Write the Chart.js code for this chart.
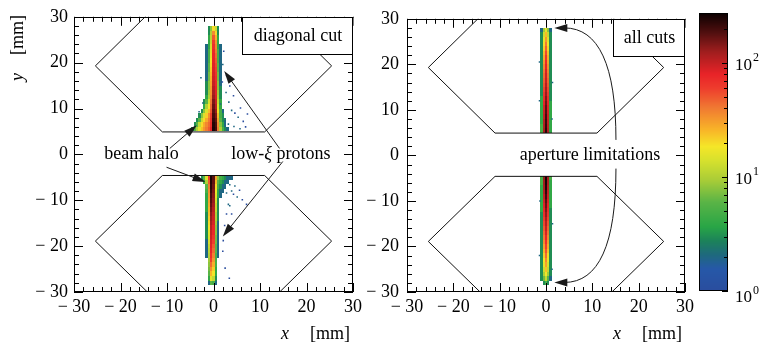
<!DOCTYPE html>
<html>
<head>
<meta charset="utf-8">
<script src="https://cdn.jsdelivr.net/npm/chart.js@4.4.1/dist/chart.umd.min.js"></script>
<style>
  body { margin: 0; background: #fff; }
  #wrap { position: relative; width: 762px; height: 344px; overflow: hidden; }
  canvas { position: absolute; top: 0; }
</style>
</head>
<body>
<div id="wrap">
  <canvas id="leftPanel" width="372" height="344" style="left:0"></canvas>
  <canvas id="rightPanel" width="362" height="344" style="left:338px"></canvas>
  <canvas id="colorBar" width="72" height="344" style="left:690px"></canvas>
</div>
<script>
// ---------------- data ----------------
const xTicks = [-30, -20, -10, 0, 10, 20, 30];
const yTicks = [-30, -20, -10, 0, 10, 20, 30];
const colorTicks = [1, 10, 100];

// aperture outline (mm)
const apertureX = [-11, 11, 25.4, 11, -11, -25.4, -11];
const apertureTopY = [4.9, 4.9, 19.3, 33.7, 33.7, 19.3, 4.9];
const apertureBottomY = [-4.6, -4.6, -18.9, -33.2, -33.2, -18.9, -4.6];

// lower edge of each 1 mm row
const topRowsY = [5, 6, 7, 8, 9, 10, 11, 12, 13, 14, 15, 16, 17, 18, 19, 20, 21, 22, 23, 24, 25, 26, 27];
const bottomRowsY = [-5.5, -6.5, -7.5, -8.5, -9.5, -10.5, -11.5, -12.5, -13.5, -14.5, -15.5, -16.5,
  -17.5, -18.5, -19.5, -20.5, -21.5, -22.5, -23.5, -24.5, -25.5, -26.5, -27.5, -28.5];

// diagonal cut, upper arm: centre of first 0.5 mm bin, then counts per bin
const leftTopStart = [-4.5, -4, -3.5, -3, -2.5, -2, -2, -1.5, -1.5, -1.5, -1.5, -1.5, -1.5, -1.5, -1.5,
  -1.5, -1.5, -1.5, -1.5, -1, -1, -1, -1];
const leftTopCounts = [
  [3, 6, 10, 16, 24, 32, 40, 50, 80, 250, 200, 40, 10, 5, 3, 2],
  [3, 6, 12, 20, 28, 36, 45, 70, 240, 190, 35, 8, 4, 2],
  [3, 6, 12, 20, 28, 40, 65, 220, 170, 30, 6, 3, 2],
  [3, 8, 14, 22, 35, 60, 200, 150, 25, 5, 3],
  [3, 8, 14, 25, 50, 180, 130, 20, 5, 2],
  [4, 10, 18, 45, 165, 110, 15, 4],
  [3, 6, 14, 40, 150, 100, 12, 4],
  [4, 10, 35, 130, 90, 10, 3],
  [3, 9, 32, 120, 85, 9, 3],
  [3, 8, 30, 110, 80, 8, 3],
  [3, 8, 28, 100, 75, 8, 2],
  [2, 7, 26, 95, 70, 7, 2],
  [2, 7, 24, 90, 65, 7, 2],
  [2, 6, 22, 88, 60, 6, 2],
  [2, 6, 20, 85, 55, 6, 2],
  [2, 5, 18, 82, 50, 5, 2],
  [2, 5, 16, 80, 45, 5, 2],
  [2, 5, 15, 75, 40, 5, 2],
  [2, 4, 14, 70, 36, 4, 2],
  [4, 12, 62, 32, 4],
  [4, 11, 50, 26, 4],
  [3, 10, 35, 20, 3],
  [3, 8, 20, 12, 3]
];

// diagonal cut, lower arm (rows from top to bottom)
const leftBottomStart = [-2.5, -2, -1.5, -1.5, -1.5, -1.5, -1.5, -1.5, -1.5, -1.5, -1.5, -1.5,
  -1.5, -1.5, -1.5, -1.5, -1.5, -1.5, -1, -1, -1, -1, -1, -1];
const leftBottomCounts = [
  [3, 6, 15, 60, 250, 180, 30, 8, 5, 4, 3, 2, 2, 2],
  [4, 10, 50, 240, 170, 25, 6, 4, 3, 2, 2],
  [6, 40, 230, 160, 20, 5, 3, 2, 2],
  [5, 35, 220, 150, 18, 4, 2, 2],
  [4, 32, 200, 140, 16, 4, 2],
  [4, 30, 185, 130, 14, 3],
  [4, 28, 170, 120, 12, 3],
  [4, 26, 155, 110, 12, 3],
  [3, 24, 140, 100, 10, 3],
  [3, 22, 130, 95, 10, 3],
  [3, 20, 120, 90, 9, 2],
  [3, 18, 110, 80, 8, 2],
  [3, 16, 100, 75, 8, 2],
  [3, 15, 95, 65, 7, 2],
  [2, 14, 90, 60, 7, 2],
  [2, 12, 85, 50, 6, 2],
  [2, 11, 80, 45, 6, 2],
  [2, 10, 70, 38, 5, 2],
  [9, 60, 32, 5],
  [8, 45, 27, 5],
  [7, 35, 22, 4],
  [6, 26, 18, 4],
  [4, 16, 12, 3],
  [2, 6, 5, 2]
];

// all cuts: bins centred at -1, -0.5, 0, 0.5, 1 mm
const rightTopCounts = [
  [5, 120, 230, 110, 4], [5, 115, 220, 105, 4], [4, 110, 210, 100, 4], [4, 100, 200, 95, 4],
  [4, 95, 185, 90, 4], [4, 90, 175, 85, 4], [4, 80, 160, 78, 4], [4, 72, 145, 70, 3],
  [3, 65, 130, 62, 3], [3, 58, 120, 56, 3], [3, 52, 110, 50, 3], [3, 48, 100, 46, 3],
  [3, 44, 95, 42, 3], [3, 40, 90, 38, 3], [3, 36, 82, 34, 3], [3, 32, 75, 30, 3],
  [3, 28, 65, 27, 3], [3, 25, 55, 24, 3], [3, 22, 48, 21, 3], [3, 20, 40, 18, 3],
  [3, 16, 32, 15, 3], [3, 13, 25, 12, 3], [2, 9, 16, 8, 2]
];
const rightBottomCounts = [
  [5, 130, 260, 120, 5], [5, 125, 250, 115, 4], [4, 120, 240, 110, 4], [4, 110, 220, 100, 4],
  [4, 100, 200, 95, 4], [4, 92, 180, 88, 4], [4, 85, 165, 80, 4], [4, 78, 150, 72, 3],
  [3, 70, 135, 65, 3], [3, 62, 120, 58, 3], [3, 56, 110, 52, 3], [3, 50, 100, 46, 3],
  [3, 45, 90, 42, 3], [3, 40, 80, 36, 3], [3, 35, 70, 32, 3], [3, 30, 60, 28, 3],
  [3, 26, 52, 24, 3], [3, 22, 44, 20, 3], [3, 19, 36, 17, 3], [3, 16, 30, 14, 3],
  [3, 13, 24, 12, 3], [3, 10, 18, 9, 3], [3, 7, 12, 6, 2], [0, 3, 5, 3, 0]
];
const rightStart = -1;

// isolated entries [x, y, count]
const leftDots = [
  [2.0, 19.6, 2], [-2.7, 16.7, 2], [3.5, 14.9, 1], [2.7, 13.5, 2], [4.3, 12.8, 1], [1.5, 11.0, 2],
  [3.3, 11.4, 2], [5.8, 10.1, 1], [3.9, 9.6, 2], [4.6, 9.0, 1], [5.3, 8.1, 2], [6.4, 7.2, 1],
  [5.7, 5.6, 2], [2.8, 17.2, 1], [2.4, 7.6, 3], [3.2, 6.6, 2], [4.4, 6.1, 2], [6.9, 6.0, 1],
  [-2.3, 11.2, 2], [-3.1, 9.3, 2], [1.9, 15.8, 1], [2.2, 22.5, 1], [7.3, 8.8, 1],
  [3.5, -6.6, 2], [4.6, -6.9, 2], [2.8, -8.4, 2], [4.3, -8.7, 1], [5.1, -9.3, 2], [7.1, -10.9, 1],
  [3.5, -11.2, 2], [3.9, -13.0, 1], [2.1, -18.8, 1], [2.5, -24.8, 1], [3.4, -27.0, 1], [2.0, -21.1, 1],
  [3.2, -10.9, 2], [2.8, -13.0, 1], [3.9, -8.0, 2], [5.6, -7.8, 1], [6.2, -9.9, 1], [2.4, -15.5, 1]
];
const rightDots = [
  [-1.4, 20.5, 2], [1.4, 16.0, 2], [-1.4, 12.0, 2], [1.3, 8.0, 2],
  [-1.3, -10.0, 2], [1.4, -15.0, 2], [-1.4, -22.0, 2], [1.3, -25.0, 2]
];

// ---------------- settings ----------------
const BIN_W = 0.5;
const ROW_H = 1;
const MINOR_STEP = 2;
const COUNT_MAX = 275;
const SERIF = '"Liberation Serif", "Times New Roman", serif';

const paletteStops = [
  [0.00, [42, 77, 158]], [0.08, [38, 88, 168]], [0.13, [30, 105, 125]], [0.18, [28, 130, 90]],
  [0.23, [40, 165, 70]], [0.32, [90, 180, 70]], [0.40, [170, 205, 55]], [0.47, [215, 225, 45]],
  [0.52, [245, 230, 40]], [0.58, [248, 180, 40]], [0.66, [240, 120, 50]], [0.73, [238, 60, 45]],
  [0.78, [232, 35, 40]], [0.86, [160, 30, 30]], [0.93, [80, 15, 15]], [1.00, [10, 0, 0]]
];

function countColor(c) {
  const t = Math.min(1, Math.max(0, Math.log10(c) / Math.log10(COUNT_MAX)));
  for (let i = 1; i < paletteStops.length; i++) {
    const [t1, c1] = paletteStops[i];
    const [t0, c0] = paletteStops[i - 1];
    if (t <= t1) {
      const f = (t - t0) / (t1 - t0);
      const rgb = c0.map((v, k) => Math.round(v + (c1[k] - v) * f));
      return `rgb(${rgb[0]},${rgb[1]},${rgb[2]})`;
    }
  }
  return 'rgb(10,0,0)';
}

function buildCells(rowsY, starts, counts) {
  const cells = [];
  rowsY.forEach((y0, i) => {
    const x0 = Array.isArray(starts) ? starts[i] : starts;
    counts[i].forEach((c, j) => {
      if (c > 0) cells.push({ x: x0 + j * BIN_W, y: y0 + ROW_H / 2, c });
    });
  });
  return cells;
}

function outline(ys) {
  return apertureX.map((x, i) => ({ x, y: ys[i] }));
}

function minusLabel(v) {
  return v < 0 ? '\u2212 ' + (-v) : String(v);
}

// ---------------- drawing helpers ----------------
function drawRich(ctx, parts, x, y, align) {
  const fonts = parts.map(p => (p[1] ? 'italic ' : '') + '18px ' + SERIF);
  const widths = parts.map((p, i) => { ctx.font = fonts[i]; return ctx.measureText(p[0]).width; });
  const total = widths.reduce((a, b) => a + b, 0);
  let cx = align === 'center' ? x - total / 2 : align === 'right' ? x - total : x;
  ctx.textAlign = 'left';
  ctx.textBaseline = 'middle';
  parts.forEach((p, i) => { ctx.font = fonts[i]; ctx.fillText(p[0], cx, y); cx += widths[i]; });
}

function arrowHead(ctx, tx, ty, ang) {
  const L = 13, W = 4;
  const c = Math.cos(ang), s = Math.sin(ang);
  ctx.beginPath();
  ctx.moveTo(tx, ty);
  ctx.lineTo(tx - L * c + W * s, ty - L * s - W * c);
  ctx.lineTo(tx - L * c - W * s, ty - L * s + W * c);
  ctx.closePath();
  ctx.fill();
}

function drawFrame(chart) {
  const ctx = chart.ctx;
  const { left, right, top, bottom } = chart.chartArea;
  const xs = chart.scales.x, ys = chart.scales.y;
  ctx.save();
  ctx.strokeStyle = '#000';
  ctx.lineWidth = 1;
  ctx.beginPath();
  for (let v = xTicks[0]; v <= xTicks[xTicks.length - 1]; v += MINOR_STEP) {
    const len = xTicks.includes(v) ? 9 : 5;
    const px = Math.round(xs.getPixelForValue(v)) + 0.5;
    ctx.moveTo(px, bottom); ctx.lineTo(px, bottom - len);
    ctx.moveTo(px, top); ctx.lineTo(px, top + len);
  }
  for (let v = yTicks[0]; v <= yTicks[yTicks.length - 1]; v += MINOR_STEP) {
    const len = yTicks.includes(v) ? 9 : 5;
    const py = Math.round(ys.getPixelForValue(v)) + 0.5;
    ctx.moveTo(left, py); ctx.lineTo(left + len, py);
    ctx.moveTo(right, py); ctx.lineTo(right - len, py);
  }
  ctx.stroke();
  ctx.strokeRect(Math.round(left) + 0.5, Math.round(top) + 0.5,
    Math.round(right - left) - 1, Math.round(bottom - top) - 1);
  ctx.restore();
}

function panelPlugin(opt) {
  return {
    id: 'panel' + opt.key,
    beforeDatasetsDraw(chart) {
      const ctx = chart.ctx;
      const xs = chart.scales.x, ys = chart.scales.y;
      const a = chart.chartArea;
      ctx.save();
      ctx.beginPath();
      ctx.rect(a.left, a.top, a.right - a.left, a.bottom - a.top);
      ctx.clip();
      chart.data.datasets.forEach(ds => {
        if (!ds.heat) return;
        ds.data.forEach(p => {
          const x0 = Math.round(xs.getPixelForValue(p.x - BIN_W / 2));
          const x1 = Math.round(xs.getPixelForValue(p.x + BIN_W / 2));
          const y0 = Math.round(ys.getPixelForValue(p.y + ROW_H / 2));
          const y1 = Math.round(ys.getPixelForValue(p.y - ROW_H / 2));
          ctx.fillStyle = countColor(p.c);
          ctx.fillRect(x0, y0, x1 - x0, y1 - y0);
        });
      });
      ctx.restore();
    },
    afterDatasetsDraw(chart) {
      const ctx = chart.ctx;
      const xs = chart.scales.x, ys = chart.scales.y;
      const a = chart.chartArea;
      drawFrame(chart);
      ctx.save();
      // label box
      const bx = Math.round(a.right - opt.boxWidth) + 0.5, by = Math.round(a.top) + 0.5;
      ctx.fillStyle = '#fff';
      ctx.fillRect(bx, by, opt.boxWidth, 37);
      ctx.strokeStyle = '#000';
      ctx.lineWidth = 1;
      ctx.strokeRect(bx, by, opt.boxWidth - 1, 37);
      ctx.fillStyle = '#000';
      drawRich(ctx, [[opt.title]], bx + opt.boxWidth / 2, by + 19, 'center');
      // annotations
      ctx.strokeStyle = '#1a1a1a';
      ctx.fillStyle = '#1a1a1a';
      opt.arrows.forEach(([x0, y0, x1, y1]) => {
        const p0 = [xs.getPixelForValue(x0), ys.getPixelForValue(y0)];
        const p1 = [xs.getPixelForValue(x1), ys.getPixelForValue(y1)];
        const ang = Math.atan2(p1[1] - p0[1], p1[0] - p0[0]);
        ctx.beginPath();
        ctx.moveTo(p0[0], p0[1]);
        ctx.lineTo(p1[0] - 10 * Math.cos(ang), p1[1] - 10 * Math.sin(ang));
        ctx.stroke();
        arrowHead(ctx, p1[0], p1[1], ang);
      });
      opt.curves.forEach(cv => {
        const p0 = [xs.getPixelForValue(cv[0][0]), ys.getPixelForValue(cv[0][1])];
        const pc = [xs.getPixelForValue(cv[1][0]), ys.getPixelForValue(cv[1][1])];
        const p1 = [xs.getPixelForValue(cv[2][0]), ys.getPixelForValue(cv[2][1])];
        const ang = Math.atan2(p1[1] - pc[1], p1[0] - pc[0]);
        ctx.beginPath();
        ctx.moveTo(p0[0], p0[1]);
        ctx.quadraticCurveTo(pc[0], pc[1], p1[0] - 10 * Math.cos(ang), p1[1] - 10 * Math.sin(ang));
        ctx.stroke();
        arrowHead(ctx, p1[0], p1[1], ang);
      });
      ctx.fillStyle = '#000';
      opt.texts.forEach(t => {
        drawRich(ctx, t.parts, xs.getPixelForValue(t.x), ys.getPixelForValue(t.y), 'center');
      });
      // axis titles
      drawRich(ctx, [['x', true]], a.right - 68, 334, 'center');
      drawRich(ctx, [['[mm]']], a.right - 3, 334, 'right');
      if (opt.yTitle) {
        ctx.translate(18, 0);
        ctx.rotate(-Math.PI / 2);
        drawRich(ctx, [['[mm]']], -15, 0, 'right');
        drawRich(ctx, [['y', true]], -77, 0, 'center');
      }
      ctx.restore();
    }
  };
}

function panelChart(id, opt) {
  const tickFont = { family: SERIF, size: 18 };
  return new Chart(document.getElementById(id), {
    type: 'scatter',
    data: {
      datasets: [
        { heat: true, data: opt.cells, pointRadius: 0, pointHoverRadius: 0 },
        {
          data: opt.dots.map(([x, y, c]) => ({ x, y, c })),
          pointStyle: 'rect', pointRadius: 1.1, borderWidth: 0,
          backgroundColor: ctx => countColor(ctx.raw ? ctx.raw.c : 1)
        },
        { data: outline(apertureTopY), showLine: true, borderColor: '#111', borderWidth: 1, pointRadius: 0 },
        { data: outline(apertureBottomY), showLine: true, borderColor: '#111', borderWidth: 1, pointRadius: 0 }
      ]
    },
    options: {
      responsive: false,
      animation: false,
      events: [],
      layout: { padding: { left: 0, top: 13, right: opt.padRight, bottom: 0 } },
      plugins: { legend: { display: false }, tooltip: { enabled: false } },
      scales: {
        x: {
          type: 'linear', min: xTicks[0], max: xTicks[xTicks.length - 1],
          afterBuildTicks: s => { s.ticks = xTicks.map(v => ({ value: v })); },
          afterFit: s => { s.height = 52; },
          grid: { display: false, drawTicks: false },
          border: { display: false },
          ticks: { font: tickFont, color: '#000', padding: 4, maxRotation: 0, autoSkip: false, callback: minusLabel }
        },
        y: {
          type: 'linear', min: yTicks[0], max: yTicks[yTicks.length - 1],
          afterBuildTicks: s => { s.ticks = yTicks.map(v => ({ value: v })); },
          afterFit: s => { s.width = opt.yWidth; },
          grid: { display: false, drawTicks: false },
          border: { display: false },
          ticks: { font: tickFont, color: '#000', padding: opt.yPad, autoSkip: false, callback: minusLabel }
        }
      }
    },
    plugins: [panelPlugin(opt)]
  });
}

panelChart('leftPanel', {
  key: 'L',
  cells: buildCells(topRowsY, leftTopStart, leftTopCounts)
    .concat(buildCells(bottomRowsY, leftBottomStart, leftBottomCounts)),
  dots: leftDots,
  padRight: 19, yWidth: 74, yPad: 6,
  title: 'diagonal cut', boxWidth: 111,
  arrows: [[-9.4, 1.3, -3.6, 6.35], [-10.1, -2.8, -1.7, -6.0], [14.2, 1.3, 2.3, 18.2], [14.9, -1.55, 2.0, -17.9]],
  curves: [],
  texts: [
    { x: -15.5, y: 0, parts: [['beam halo']] },
    { x: 14.5, y: 0, parts: [['low-'], ['\u03BE', true], [' protons']] }
  ],
  yTitle: true
});

panelChart('rightPanel', {
  key: 'R',
  cells: buildCells(topRowsY, rightStart, rightTopCounts)
    .concat(buildCells(bottomRowsY, rightStart, rightBottomCounts)),
  dots: rightDots,
  padRight: 15, yWidth: 69, yPad: 8,
  title: 'all cuts', boxWidth: 72,
  arrows: [],
  curves: [
    [[15.1, 3.4], [15.1, 28], [1.8, 28]],
    [[15.1, -2.9], [15.1, -27.9], [1.8, -27.9]]
  ],
  texts: [{ x: 9.5, y: 0, parts: [['aperture limitations']] }],
  yTitle: false
});

// ---------------- colour scale ----------------
new Chart(document.getElementById('colorBar'), {
  type: 'scatter',
  data: { datasets: [{ data: [] }] },
  options: {
    responsive: false,
    animation: false,
    events: [],
    layout: { padding: { left: 9, right: 34, top: 13, bottom: 53 } },
    plugins: { legend: { display: false }, tooltip: { enabled: false } },
    scales: {
      x: { display: false, min: 0, max: 1 },
      y: { type: 'logarithmic', display: false, min: 1, max: COUNT_MAX }
    }
  },
  plugins: [{
    id: 'colorScale',
    afterDraw(chart) {
      const ctx = chart.ctx;
      const ys = chart.scales.y;
      const { left, right, top, bottom } = chart.chartArea;
      ctx.save();
      for (let py = Math.round(top); py < Math.round(bottom); py++) {
        ctx.fillStyle = countColor(ys.getValueForPixel(py + 0.5));
        ctx.fillRect(Math.round(left), py, Math.round(right - left), 1);
      }
      ctx.strokeStyle = '#000';
      ctx.lineWidth = 1;
      ctx.strokeRect(Math.round(left) + 0.5, Math.round(top) + 0.5, Math.round(right - left) - 1, Math.round(bottom - top) - 1);
      ctx.beginPath();
      colorTicks.forEach(d => {
        for (let k = 1; k <= 9; k++) {
          const v = k * d;
          if (v > COUNT_MAX) break;
          const py = Math.round(ys.getPixelForValue(v)) + 0.5;
          const len = k === 1 ? 6 : 4;
          ctx.moveTo(right, py);
          ctx.lineTo(right - len, py);
        }
      });
      ctx.stroke();
      ctx.fillStyle = '#000';
      ctx.textAlign = 'left';
      ctx.textBaseline = 'middle';
      colorTicks.forEach(v => {
        const py = ys.getPixelForValue(v) + (v === 1 ? 7 : 2);
        ctx.font = '17px ' + SERIF;
        ctx.fillText('10', right + 7, py);
        const w = ctx.measureText('10').width;
        ctx.font = '12px ' + SERIF;
        ctx.fillText(String(Math.round(Math.log10(v))), right + 8 + w, py - 7);
      });
      ctx.restore();
    }
  }]
});
</script>
</body>
</html>
